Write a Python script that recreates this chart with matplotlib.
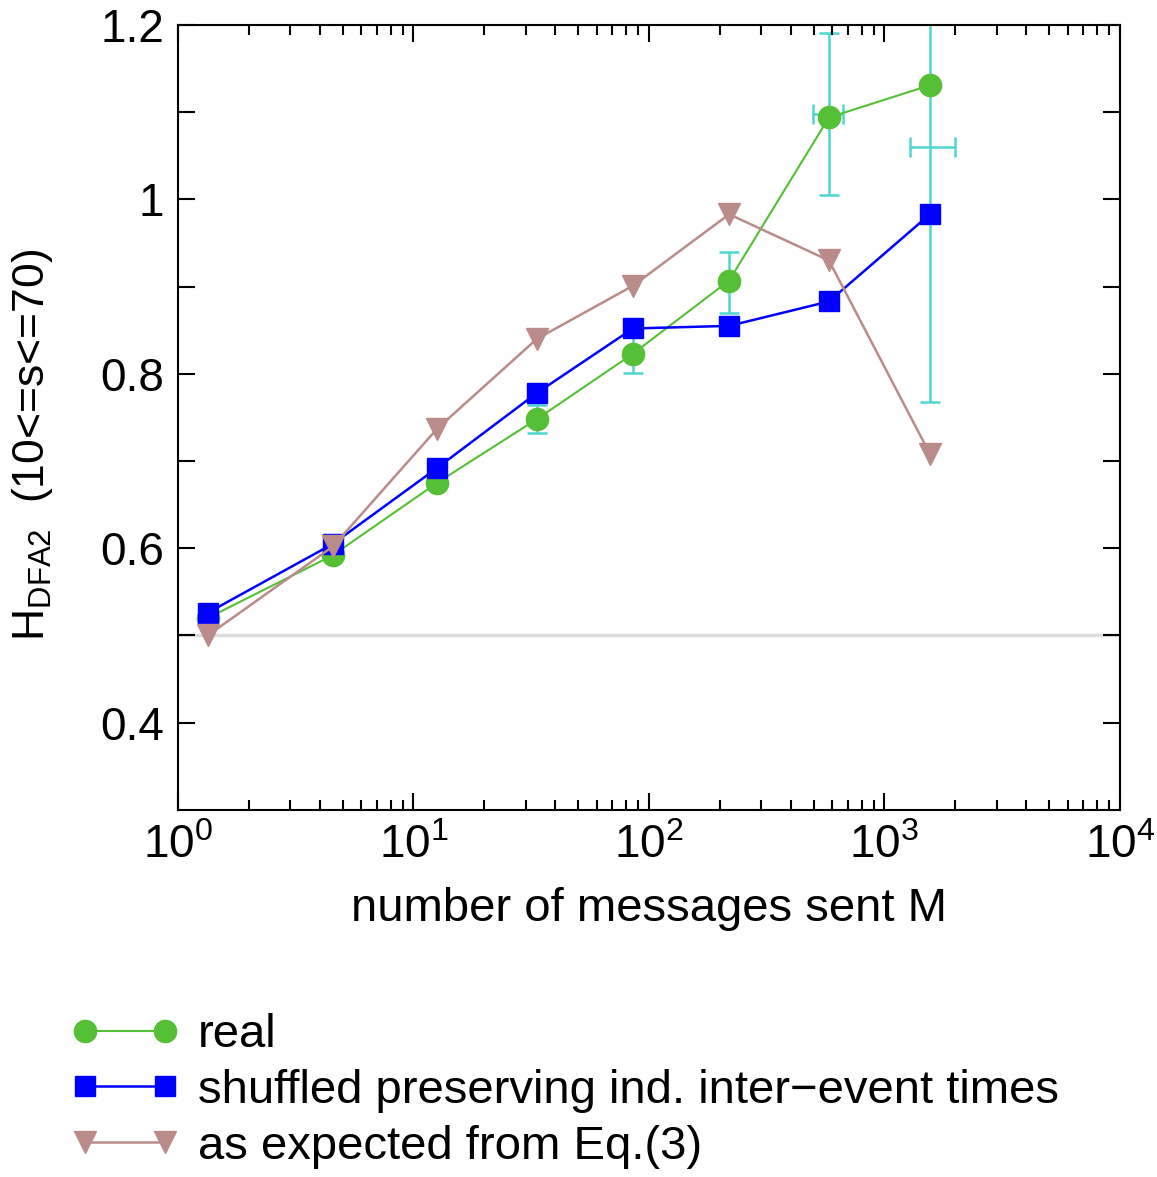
import matplotlib
matplotlib.use("Agg")
import matplotlib.pyplot as plt
from matplotlib.ticker import LogLocator, FixedLocator, NullFormatter

plt.rcParams['font.family'] = ['Liberation Sans', 'DejaVu Sans']
plt.rcParams['mathtext.fontset'] = 'custom'
plt.rcParams['mathtext.rm'] = 'Liberation Sans'
plt.rcParams['mathtext.it'] = 'Liberation Sans'

# messages sent M (bin centres)
m_vals = [1.34, 4.55, 12.6, 33.4, 85.5, 219, 581, 1560]

# H_DFA2 for each series
h_real = [0.520, 0.592, 0.675, 0.748, 0.823, 0.907, 1.094, 1.131]
h_shuffled = [0.526, 0.605, 0.692, 0.778, 0.852, 0.855, 0.883, 0.983]
h_expected = [0.500, 0.602, 0.737, 0.840, 0.901, 0.983, 0.930, 0.708]

# error bars (cyan)
err_m = [33.4, 85.5, 219, 581, 1560]
err_h = [0.748, 0.823, 0.905, 1.098, 1.060]
err_h_size = [0.016, 0.022, 0.035, 0.093, 0.292]
err_m_low = [0, 0, 0, 84, 277]
err_m_high = [0, 0, 0, 86, 432]

green = '#55bf35'
blue = '#0000ff'
brown = '#b98c89'
cyan = '#4fd6d0'

fig = plt.figure(figsize=(11.57, 11.77), dpi=100)
ax = fig.add_axes([0.1538, 0.312, 0.8142, 0.6667])

ax.axhline(0.5, color='#dcdcdc', lw=2.5, zorder=0)

ax.errorbar(err_m, err_h, yerr=err_h_size, xerr=[err_m_low, err_m_high],
            fmt='none', ecolor=cyan, elinewidth=1.8, capsize=7, capthick=1.8, zorder=1)

ax.plot(m_vals, h_real, '-o', color=green, lw=1.5, ms=16, label='real', zorder=2)
ax.plot(m_vals, h_shuffled, '-s', color=blue, lw=1.8, ms=14,
        label='shuffled preserving ind. inter\u2212event times', zorder=3)
ax.plot(m_vals, h_expected, '-v', color=brown, lw=1.8, ms=16,
        label='as expected from Eq.(3)', zorder=4)

ax.set_xscale('log')
ax.set_xlim(1, 1e4)
ax.set_ylim(0.3, 1.2)
ax.xaxis.set_major_locator(LogLocator(base=10, numticks=10))
ax.xaxis.set_minor_locator(LogLocator(base=10, subs=range(2, 10), numticks=50))
ax.xaxis.set_minor_formatter(NullFormatter())
ax.set_yticks([0.4, 0.6, 0.8, 1.0, 1.2])
ax.set_yticklabels(['0.4', '0.6', '0.8', '1', '1.2'])
ax.yaxis.set_minor_locator(FixedLocator([0.5, 0.7, 0.9, 1.1]))

ax.tick_params(which='both', direction='in', top=True, right=True, width=1.5,
               labelsize=33, pad=10)
ax.tick_params(which='major', length=12)
ax.tick_params(axis='x', which='minor', length=7)
ax.tick_params(axis='y', which='minor', length=12)
for s in ax.spines.values():
    s.set_linewidth(1.5)

ax.set_xlabel('number of messages sent M', fontsize=34, labelpad=14)
ax.set_ylabel(r'H$_{\rm DFA2}$  (10<=s<=70)', fontsize=32)
ax.yaxis.set_label_coords(-0.13, 0.465)

ax.legend(loc='upper left', bbox_to_anchor=(-0.134, -0.235), frameon=False,
          fontsize=34, handlelength=2.3, handletextpad=0.4, labelspacing=0.25,
          borderaxespad=0, numpoints=2)

fig.savefig('out.png', dpi=100)
